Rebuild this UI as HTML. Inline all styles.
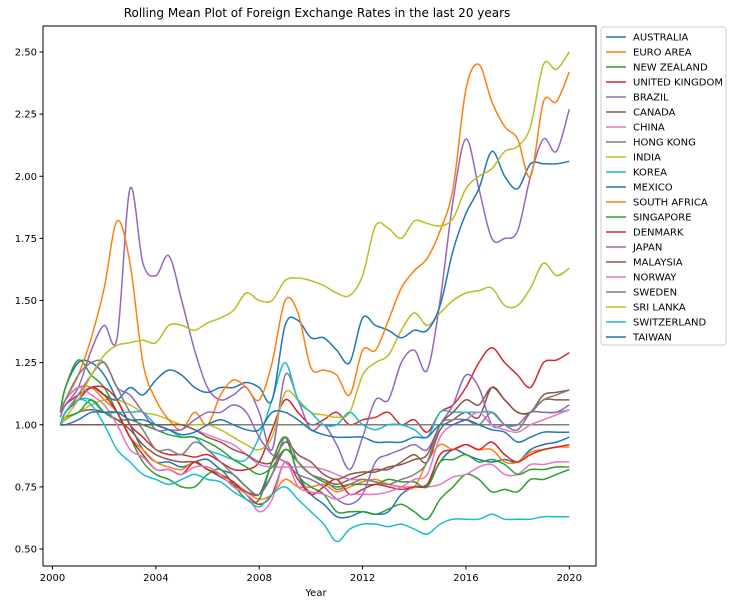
<!DOCTYPE html>
<html><head><meta charset="utf-8"><style>
body{margin:0;background:#fff;}
svg text{font-family:"DejaVu Sans","Liberation Sans",sans-serif;fill:#000;}
</style></head><body>
<svg id="chart" width="732" height="604">
<rect x="0" y="0" width="732" height="604" fill="#fff"/>
<text x="317" y="17" font-size="12" text-anchor="middle">Rolling Mean Plot of Foreign Exchange Rates in the last 20 years</text>
<g id="plot"></g>
<rect x="43" y="26" width="553" height="540" fill="none" stroke="#000" stroke-width="1"/>
<g id="xaxis"></g><g id="yaxis"></g>
<text x="316" y="596" font-size="10" text-anchor="middle">Year</text>
<g id="legend"></g>
</svg>
<script>
const years=[2000.3,2000.5,2001,2001.5,2002,2002.5,2003,2003.5,2004,2004.5,2005,2005.5,2006,2006.5,2007,2007.5,2008,2008.5,2009,2009.5,2010,2010.5,2011,2011.5,2012,2012.5,2013,2013.5,2014,2014.5,2015,2015.5,2016,2016.5,2017,2017.5,2018,2018.5,2019,2019.5,2020];
const seriesNames=["AUSTRALIA","EURO AREA","NEW ZEALAND","UNITED KINGDOM","BRAZIL","CANADA","CHINA","HONG KONG","INDIA","KOREA","MEXICO","SOUTH AFRICA","SINGAPORE","DENMARK","JAPAN","MALAYSIA","NORWAY","SWEDEN","SRI LANKA","SWITZERLAND","TAIWAN"];
const australia=[1.05,1.15,1.25,1.25,1.2,1.1,1.0,0.9,0.85,0.85,0.83,0.85,0.86,0.82,0.8,0.75,0.72,0.85,0.95,0.8,0.72,0.68,0.63,0.63,0.65,0.64,0.65,0.72,0.75,0.76,0.85,0.9,0.88,0.86,0.85,0.86,0.85,0.9,0.92,0.93,0.95];
const euroArea=[1.05,1.1,1.15,1.15,1.1,1.05,0.95,0.9,0.85,0.83,0.82,0.85,0.82,0.8,0.77,0.73,0.7,0.72,0.78,0.75,0.75,0.76,0.73,0.75,0.77,0.78,0.76,0.75,0.75,0.85,0.92,0.9,0.92,0.9,0.9,0.85,0.85,0.89,0.9,0.91,0.91];
const newZealand=[1.05,1.15,1.26,1.2,1.15,1.05,0.95,0.85,0.8,0.78,0.75,0.75,0.8,0.82,0.76,0.7,0.7,0.85,0.95,0.8,0.75,0.72,0.65,0.65,0.65,0.64,0.66,0.68,0.65,0.62,0.7,0.75,0.8,0.78,0.73,0.74,0.73,0.78,0.78,0.8,0.82];
const unitedKingdom=[1.05,1.08,1.12,1.15,1.15,1.1,1.0,0.95,0.9,0.88,0.88,0.87,0.88,0.85,0.82,0.82,0.85,0.98,1.1,1.05,1.0,1.02,1.05,1.0,1.02,1.03,1.05,1.0,1.02,0.97,1.05,1.08,1.15,1.25,1.31,1.25,1.2,1.15,1.25,1.26,1.29];
const brazil=[1.03,1.08,1.15,1.3,1.4,1.35,1.95,1.65,1.6,1.68,1.5,1.3,1.15,1.1,1.12,1.15,1.05,0.9,1.2,1.1,0.98,1.0,0.92,0.82,0.95,1.1,1.1,1.25,1.3,1.22,1.5,1.9,2.15,1.95,1.75,1.75,1.78,2.0,2.15,2.1,2.27];
const canada=[1.0,1.02,1.05,1.06,1.05,1.02,0.98,0.92,0.88,0.86,0.85,0.85,0.82,0.79,0.76,0.73,0.72,0.8,0.9,0.85,0.8,0.78,0.76,0.78,0.8,0.82,0.82,0.85,0.88,0.85,0.98,1.02,1.05,1.03,1.15,1.1,1.05,1.05,1.1,1.1,1.1];
const china=[1.0,1.0,1.0,1.0,1.0,1.0,1.0,1.0,1.0,1.0,1.0,0.98,0.96,0.94,0.92,0.88,0.84,0.83,0.83,0.83,0.83,0.82,0.8,0.78,0.78,0.77,0.76,0.75,0.75,0.75,0.76,0.79,0.8,0.83,0.84,0.8,0.8,0.84,0.84,0.85,0.85];
const hongKong=[1.0,1.0,1.0,1.0,1.0,1.0,1.0,1.0,1.0,1.0,1.0,1.0,1.0,1.0,1.0,1.0,1.0,1.0,1.0,1.0,1.0,1.0,1.0,1.0,1.0,1.0,1.0,1.0,1.0,1.0,1.0,1.0,1.0,1.0,1.0,1.0,1.0,1.0,1.0,1.0,1.0];
const india=[1.0,1.02,1.05,1.08,1.1,1.1,1.08,1.05,1.04,1.02,1.0,1.0,1.0,0.98,0.95,0.92,0.9,0.95,1.13,1.1,1.05,1.04,1.03,1.05,1.2,1.25,1.28,1.38,1.45,1.4,1.45,1.5,1.53,1.54,1.55,1.48,1.48,1.55,1.65,1.6,1.63];
const korea=[1.0,1.05,1.1,1.1,1.05,1.05,1.05,1.05,1.0,0.98,0.95,0.95,0.9,0.88,0.86,0.86,0.95,1.1,1.25,1.1,1.05,1.0,1.0,1.05,1.0,0.98,1.0,1.0,0.98,0.95,1.05,1.05,1.05,1.05,1.05,1.0,1.0,1.05,1.05,1.05,1.06];
const mexico=[1.0,1.05,1.1,1.15,1.12,1.1,1.15,1.12,1.18,1.22,1.2,1.15,1.13,1.15,1.15,1.17,1.15,1.1,1.4,1.42,1.35,1.35,1.3,1.25,1.43,1.4,1.38,1.35,1.38,1.38,1.48,1.7,1.85,1.95,2.1,2.0,1.95,2.05,2.05,2.05,2.06];
const southAfrica=[1.05,1.1,1.2,1.35,1.55,1.82,1.65,1.25,1.1,1.02,0.98,1.05,1.0,1.12,1.18,1.15,1.1,1.25,1.5,1.45,1.23,1.22,1.2,1.12,1.3,1.3,1.42,1.55,1.62,1.67,1.78,1.95,2.35,2.45,2.3,2.2,2.15,2.0,2.3,2.3,2.42];
const singapore=[1.0,1.03,1.05,1.1,1.05,1.02,1.02,1.0,0.98,0.96,0.95,0.95,0.93,0.9,0.86,0.83,0.8,0.83,0.9,0.85,0.8,0.77,0.75,0.76,0.76,0.76,0.78,0.77,0.77,0.75,0.85,0.86,0.88,0.85,0.86,0.84,0.8,0.82,0.82,0.83,0.83];
const denmark=[1.0,1.05,1.1,1.15,1.12,1.05,0.95,0.88,0.82,0.82,0.8,0.85,0.82,0.8,0.77,0.72,0.68,0.72,0.85,0.78,0.72,0.75,0.78,0.72,0.74,0.76,0.75,0.74,0.75,0.76,0.88,0.9,0.92,0.9,0.93,0.88,0.85,0.88,0.9,0.91,0.92];
const japan=[1.0,1.05,1.12,1.2,1.25,1.15,1.12,1.05,0.98,0.98,0.98,1.02,1.05,1.05,1.08,1.05,0.95,0.88,0.85,0.8,0.78,0.75,0.7,0.68,0.72,0.85,0.88,0.9,0.92,0.9,1.0,1.08,1.2,1.15,1.0,1.0,1.0,1.05,1.05,1.05,1.08];
const malaysia=[1.0,1.0,1.0,1.0,1.0,1.0,1.0,1.0,1.0,1.0,1.0,0.98,0.95,0.93,0.9,0.88,0.85,0.85,0.93,0.88,0.85,0.8,0.78,0.8,0.81,0.81,0.83,0.84,0.86,0.88,1.0,1.05,1.1,1.08,1.15,1.1,1.05,1.05,1.12,1.13,1.14];
const norway=[1.05,1.1,1.15,1.12,1.08,1.0,0.9,0.87,0.82,0.82,0.8,0.83,0.83,0.8,0.75,0.72,0.65,0.7,0.85,0.75,0.73,0.72,0.7,0.72,0.72,0.72,0.73,0.75,0.78,0.8,0.95,1.0,1.02,1.05,1.0,0.98,0.97,1.0,1.02,1.04,1.06];
const sweden=[1.05,1.1,1.2,1.25,1.25,1.15,1.05,0.98,0.9,0.9,0.88,0.93,0.9,0.85,0.8,0.75,0.72,0.8,0.95,0.85,0.8,0.78,0.74,0.76,0.78,0.77,0.76,0.78,0.8,0.85,1.0,1.02,1.02,1.0,1.05,1.0,0.98,1.05,1.1,1.12,1.14];
const sriLanka=[1.0,1.03,1.1,1.2,1.28,1.32,1.33,1.34,1.33,1.4,1.4,1.38,1.41,1.43,1.46,1.53,1.5,1.5,1.58,1.59,1.58,1.56,1.53,1.52,1.6,1.8,1.79,1.75,1.82,1.81,1.8,1.83,1.95,2.0,2.03,2.1,2.12,2.2,2.45,2.43,2.5];
const switzerland=[1.0,1.05,1.1,1.08,1.0,0.9,0.85,0.8,0.78,0.76,0.78,0.8,0.78,0.77,0.73,0.7,0.67,0.72,0.75,0.7,0.65,0.6,0.53,0.58,0.6,0.6,0.59,0.6,0.58,0.56,0.6,0.62,0.62,0.62,0.64,0.62,0.62,0.62,0.63,0.63,0.63];
const taiwan=[1.0,1.0,1.02,1.05,1.05,1.05,1.02,1.02,1.0,0.98,0.96,0.97,1.0,1.02,1.0,0.98,0.98,1.05,1.05,1.02,0.98,0.96,0.95,0.95,0.95,0.93,0.93,0.93,0.95,0.95,1.0,1.0,1.02,1.0,0.98,0.97,0.93,0.95,0.97,0.97,0.97];
const xTicks=[2000,2004,2008,2012,2016,2020];
const yTicks=[0.5,0.75,1.0,1.25,1.5,1.75,2.0,2.25,2.5];
const yTickLabels=["0.50","0.75","1.00","1.25","1.50","1.75","2.00","2.25","2.50"];

const allSeries=[australia,euroArea,newZealand,unitedKingdom,brazil,canada,china,hongKong,india,korea,mexico,southAfrica,singapore,denmark,japan,malaysia,norway,sweden,sriLanka,switzerland,taiwan];
const palette=["#1f77b4","#ff7f0e","#2ca02c","#d62728","#9467bd","#8c564b","#e377c2","#7f7f7f","#bcbd22","#17becf"];
const NS="http://www.w3.org/2000/svg";
function xs(v){return 52.5+(v-2000)*25.84;}
function ys(v){return 549-(v-0.5)*248.5;}
function mk(tag,attrs,parent){const e=document.createElementNS(NS,tag);for(const k in attrs)e.setAttribute(k,attrs[k]);parent.appendChild(e);return e;}
function slug(s){return s.toLowerCase().replace(/ /g,'-');}
const plot=document.getElementById('plot');
allSeries.forEach((vals,i)=>{
  const pts=vals.map((v,j)=>[xs(years[j]),ys(v)]);
  let d="M"+pts[0][0].toFixed(1)+","+pts[0][1].toFixed(1);
  for(let j=0;j<pts.length-1;j++){
    const p0=pts[Math.max(0,j-1)],p1=pts[j],p2=pts[j+1],p3=pts[Math.min(pts.length-1,j+2)];
    const c1=[p1[0]+(p2[0]-p0[0])/6,p1[1]+(p2[1]-p0[1])/6];
    const c2=[p2[0]-(p3[0]-p1[0])/6,p2[1]-(p3[1]-p1[1])/6];
    d+=" C"+c1[0].toFixed(1)+","+c1[1].toFixed(1)+" "+c2[0].toFixed(1)+","+c2[1].toFixed(1)+" "+p2[0].toFixed(1)+","+p2[1].toFixed(1);
  }
  const p=mk('path',{d:d,fill:'none',stroke:palette[i%10],'stroke-width':1.5},plot);
  
  
});
const xa=document.getElementById('xaxis');
xTicks.forEach(t=>{
  const l=mk('line',{x1:xs(t),x2:xs(t),y1:566,y2:569.5,stroke:'#000'},xa);
  
  
  const tx=mk('text',{x:xs(t),y:581,'font-size':10,'text-anchor':'middle'},xa);
  tx.textContent=t;
  
  
});
const ya=document.getElementById('yaxis');
yTicks.forEach((t,i)=>{
  const l=mk('line',{x1:39.5,x2:43,y1:ys(t),y2:ys(t),stroke:'#000'},ya);
  
  
  const tx=mk('text',{x:37,y:ys(t)+3.5,'font-size':10,'text-anchor':'end'},ya);
  tx.textContent=yTickLabels[i];
  
  
});
const lg=document.getElementById('legend');
const box=mk('rect',{x:601,y:27,width:125,height:318,rx:3,fill:'#fff',stroke:'#ccc'},lg);


seriesNames.forEach((n,i)=>{
  const y=37+i*15;
  const g=mk('g',{},lg);
  
  
  mk('line',{x1:606,x2:626,y1:y,y2:y,stroke:palette[i%10],'stroke-width':1.5},g);
  const t=mk('text',{x:633,y:y+3.5,'font-size':10},g);
  t.textContent=n;
});
</script>
</body></html>
